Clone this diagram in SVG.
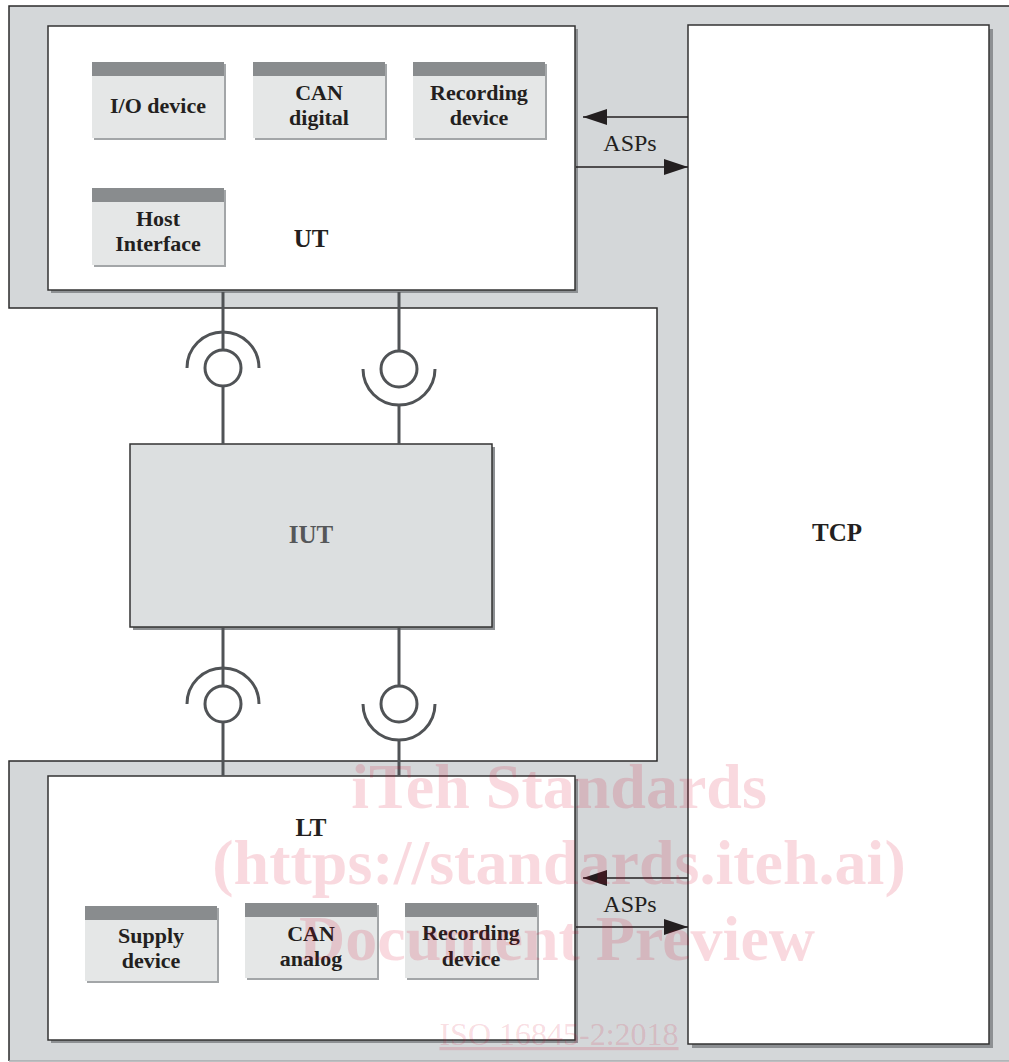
<svg xmlns="http://www.w3.org/2000/svg" width="1009" height="1062" viewBox="0 0 1009 1062">
<defs>
<marker id="ah" markerWidth="24" markerHeight="16" refX="24" refY="8" orient="auto" markerUnits="userSpaceOnUse"><path d="M0,0 L24,8 L0,16 Z" fill="#231f20"/></marker>
</defs>
<style>
.gray{fill:#d4d7d9}
.edge{stroke:#2b2b2b;stroke-width:1.5;fill:none}
.box{fill:#fff;stroke:#333;stroke-width:1.5}
.shadow{fill:#8d9093}
.subsh{fill:#a3a6a8}
.sub{fill:#e5e7e7}
.hdr{fill:#898c8e}
.lbl{font-family:"Liberation Serif",serif;font-weight:bold;font-size:22px;fill:#231f20;text-anchor:middle}
.big{font-size:25px}
.asp{font-family:"Liberation Serif",serif;font-size:24px;fill:#231f20;text-anchor:middle}
.conn{stroke:#505356;stroke-width:3;fill:none}
.arr{stroke:#231f20;stroke-width:1.5;fill:none}
.wm{font-family:"Liberation Serif",serif;font-weight:bold;font-size:64px;fill:#d4002a;fill-opacity:0.15;text-anchor:middle}
</style>
<rect x="0" y="0" width="1009" height="1062" fill="#fff"/>
<path class="gray" d="M9,6 H1012 V1061 H9 V761 H657 V308 H9 Z"/>
<path class="edge" d="M1012,6 H9 V308 H657 V761 H9 V1061"/>
<line x1="9" y1="1061" x2="1012" y2="1061" stroke="#a7aaac" stroke-width="1.5"/>

<g id="UT">
<rect class="shadow" x="51" y="29" width="527" height="264"/>
<rect class="box" x="48" y="26" width="527" height="264"/>
<text class="lbl big" x="311" y="247">UT</text>
</g>
<g id="io-device">
<rect class="subsh" x="94" y="64" width="132" height="76"/><rect class="sub" x="92" y="62" width="132" height="76"/><rect class="hdr" x="92" y="62" width="132" height="14"/>
<text class="lbl" x="158" y="113">I/O device</text>
</g>
<g id="can-digital">
<rect class="subsh" x="255" y="64" width="132" height="76"/><rect class="sub" x="253" y="62" width="132" height="76"/><rect class="hdr" x="253" y="62" width="132" height="14"/>
<text class="lbl" x="319" y="100">CAN</text><text class="lbl" x="319" y="125">digital</text>
</g>
<g id="recording-device-ut">
<rect class="subsh" x="415" y="64" width="132" height="76"/><rect class="sub" x="413" y="62" width="132" height="76"/><rect class="hdr" x="413" y="62" width="132" height="14"/>
<text class="lbl" x="479" y="100">Recording</text><text class="lbl" x="479" y="125">device</text>
</g>
<g id="host-interface">
<rect class="subsh" x="94" y="190" width="132" height="77"/><rect class="sub" x="92" y="188" width="132" height="77"/><rect class="hdr" x="92" y="188" width="132" height="14"/>
<text class="lbl" x="158" y="226">Host</text><text class="lbl" x="158" y="251">Interface</text>
</g>

<g id="TCP">
<rect class="shadow" x="692" y="29" width="301" height="1019"/>
<rect class="box" x="688" y="25" width="301" height="1019"/>
<text class="lbl big" x="837" y="541">TCP</text>
</g>

<g id="IUT">
<rect class="shadow" x="133" y="447" width="362" height="183"/>
<rect x="130" y="444" width="362" height="183" fill="#dcdfe0" stroke="#333" stroke-width="1.5"/>
<text class="lbl big" x="311" y="543" style="fill:#555759">IUT</text>
</g>

<g id="LT">
<rect class="shadow" x="51" y="779" width="527" height="264"/>
<rect class="box" x="48" y="776" width="527" height="264"/>
<text class="lbl big" x="311" y="836">LT</text>
</g>
<g id="supply-device">
<rect class="subsh" x="87" y="908" width="132" height="75"/><rect class="sub" x="85" y="906" width="132" height="75"/><rect class="hdr" x="85" y="906" width="132" height="14"/>
<text class="lbl" x="151" y="943">Supply</text><text class="lbl" x="151" y="968">device</text>
</g>
<g id="can-analog">
<rect class="subsh" x="247" y="905" width="132" height="75"/><rect class="sub" x="245" y="903" width="132" height="75"/><rect class="hdr" x="245" y="903" width="132" height="14"/>
<text class="lbl" x="311" y="941">CAN</text><text class="lbl" x="311" y="966">analog</text>
</g>
<g id="recording-device-lt">
<rect class="subsh" x="407" y="905" width="132" height="75"/><rect class="sub" x="405" y="903" width="132" height="75"/><rect class="hdr" x="405" y="903" width="132" height="14"/>
<text class="lbl" x="471" y="940">Recording</text><text class="lbl" x="471" y="966">device</text>
</g>

<g id="connectors">
<line class="conn" x1="223" y1="292" x2="223" y2="350"/>
<circle class="conn" cx="223" cy="368" r="18"/>
<path class="conn" d="M187,368 A36,36 0 0 1 259,368"/>
<line class="conn" x1="223" y1="386" x2="223" y2="444"/>
<line class="conn" x1="399" y1="292" x2="399" y2="351"/>
<circle class="conn" cx="399" cy="369" r="18"/>
<path class="conn" d="M363,369 A36,36 0 0 0 435,369"/>
<line class="conn" x1="399" y1="405" x2="399" y2="444"/>

<line class="conn" x1="223" y1="628" x2="223" y2="686"/>
<circle class="conn" cx="223" cy="704" r="18"/>
<path class="conn" d="M187,704 A36,36 0 0 1 259,704"/>
<line class="conn" x1="223" y1="722" x2="223" y2="776"/>
<line class="conn" x1="399" y1="628" x2="399" y2="686"/>
<circle class="conn" cx="399" cy="704" r="18"/>
<path class="conn" d="M363,704 A36,36 0 0 0 435,704"/>
<line class="conn" x1="399" y1="740" x2="399" y2="776"/>

<line class="arr" x1="688" y1="117" x2="583" y2="117" marker-end="url(#ah)"/>
<line class="arr" x1="576" y1="167" x2="688" y2="167" marker-end="url(#ah)"/>
<text class="asp" x="630" y="151">ASPs</text>
<line class="arr" x1="688" y1="878" x2="583" y2="878" marker-end="url(#ah)"/>
<line class="arr" x1="576" y1="927" x2="688" y2="927" marker-end="url(#ah)"/>
<text class="asp" x="630" y="912">ASPs</text>
</g>

<g id="watermark">
<text class="wm" x="559" y="808">iTeh Standards</text>
<text class="wm" x="559" y="884">(https://standards.iteh.ai)</text>
<text class="wm" x="557" y="960">Document Preview</text>
<text x="559" y="1045" font-family="Liberation Serif, serif" font-size="32" fill="#d4002a" fill-opacity="0.15" text-anchor="middle" text-decoration="underline">ISO 16845-2:2018</text>
</g>
</svg>
